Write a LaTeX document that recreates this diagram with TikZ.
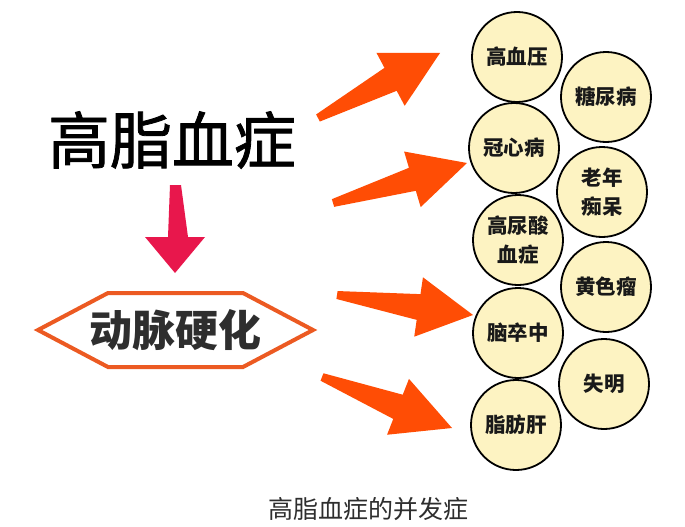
\documentclass[tikz,border=0pt]{standalone}
\usepackage{fontspec}
\setmainfont{Noto Sans CJK SC}
\newfontfamily\titlefont[FakeBold=1.3]{Noto Sans CJK SC}
\usetikzlibrary{calc}
\definecolor{arrowor}{HTML}{FF4D05}
\definecolor{hexor}{HTML}{EC5A22}
\definecolor{downred}{HTML}{E8174C}
\definecolor{disfill}{HTML}{FDF3C2}
\definecolor{txtdark}{HTML}{2E2E2E}
\tikzset{
  dis/.style={circle, draw=black, line width=1.8pt, fill=disfill, minimum size=90pt, inner sep=0pt,
    font=\fontsize{20.5}{29}\selectfont\bfseries, text=black!90, align=center},
}
% #1 tail, #2 tip, #3 tail halfwidth, #4 shaft halfwidth at head, #5 head halfwidth, #6 head length
\newcommand\myfatarrow[6]{%
  \coordinate (faA) at #1;
  \coordinate (faB) at #2;
  \coordinate (faH) at ($(faB)!#6pt!(faA)$);
  \fill[arrowor] ($(faA)!#3pt!90:(faB)$) -- ($(faH)!#4pt!90:(faB)$) -- ($(faH)!#5pt!90:(faB)$)
    -- (faB) -- ($(faH)!#5pt!-90:(faB)$) -- ($(faH)!#4pt!-90:(faB)$) -- ($(faA)!#3pt!-90:(faB)$) -- cycle;
}
\begin{document}
\begin{tikzpicture}[x=1pt,y=-1pt]
\useasboundingbox[fill=white] (0,0) rectangle (685,527);

% title
\node[font=\titlefont\fontsize{62}{62}\selectfont, text=black] (title) at (172,140) {高脂血症};

% down arrow
\fill[downred] (170,185) -- (181,185) -- (188,237) -- (205,237) -- (175,273) -- (145,237) -- (168,237) -- cycle;

% hexagon
\draw[hexor, line width=4pt, line join=miter] (38,330) -- (108,293) -- (243,293) -- (313,330) -- (243,367) -- (108,367) -- cycle;
\node[font=\fontsize{43}{43}\selectfont\bfseries, text=txtdark] (as) at (175,330) {动脉硬化};

% big orange arrows
\myfatarrow{(318,118)}{(440,53)}{4}{13}{30}{56}
\myfatarrow{(333,203)}{(467,163)}{4}{12}{29}{57}
\myfatarrow{(337,295)}{(473,315)}{4}{13}{30}{55}
\myfatarrow{(322,377)}{(452,428)}{4}{13}{30}{58}

% disease circles
\node[dis] (gxy) at (517,57) {高血压};
\node[dis] (tnb) at (606,97) {糖尿病};
\node[dis] (gxb) at (514,148) {冠心病};
\node[dis] (lnc) at (602,192) {老年\\痴呆};
\node[dis] (gns) at (518,240) {高尿酸\\血症};
\node[dis] (hsl) at (606,287) {黄色瘤};
\node[dis] (nzz) at (518,333) {脑卒中};
\node[dis] (sm) at (604,384) {失明};
\node[dis] (zfg) at (516,425) {脂肪肝};

% caption
\node[font=\fontsize{25}{25}\selectfont, text=txtdark] (cap) at (368,509) {高脂血症的并发症};
\end{tikzpicture}
\end{document}
